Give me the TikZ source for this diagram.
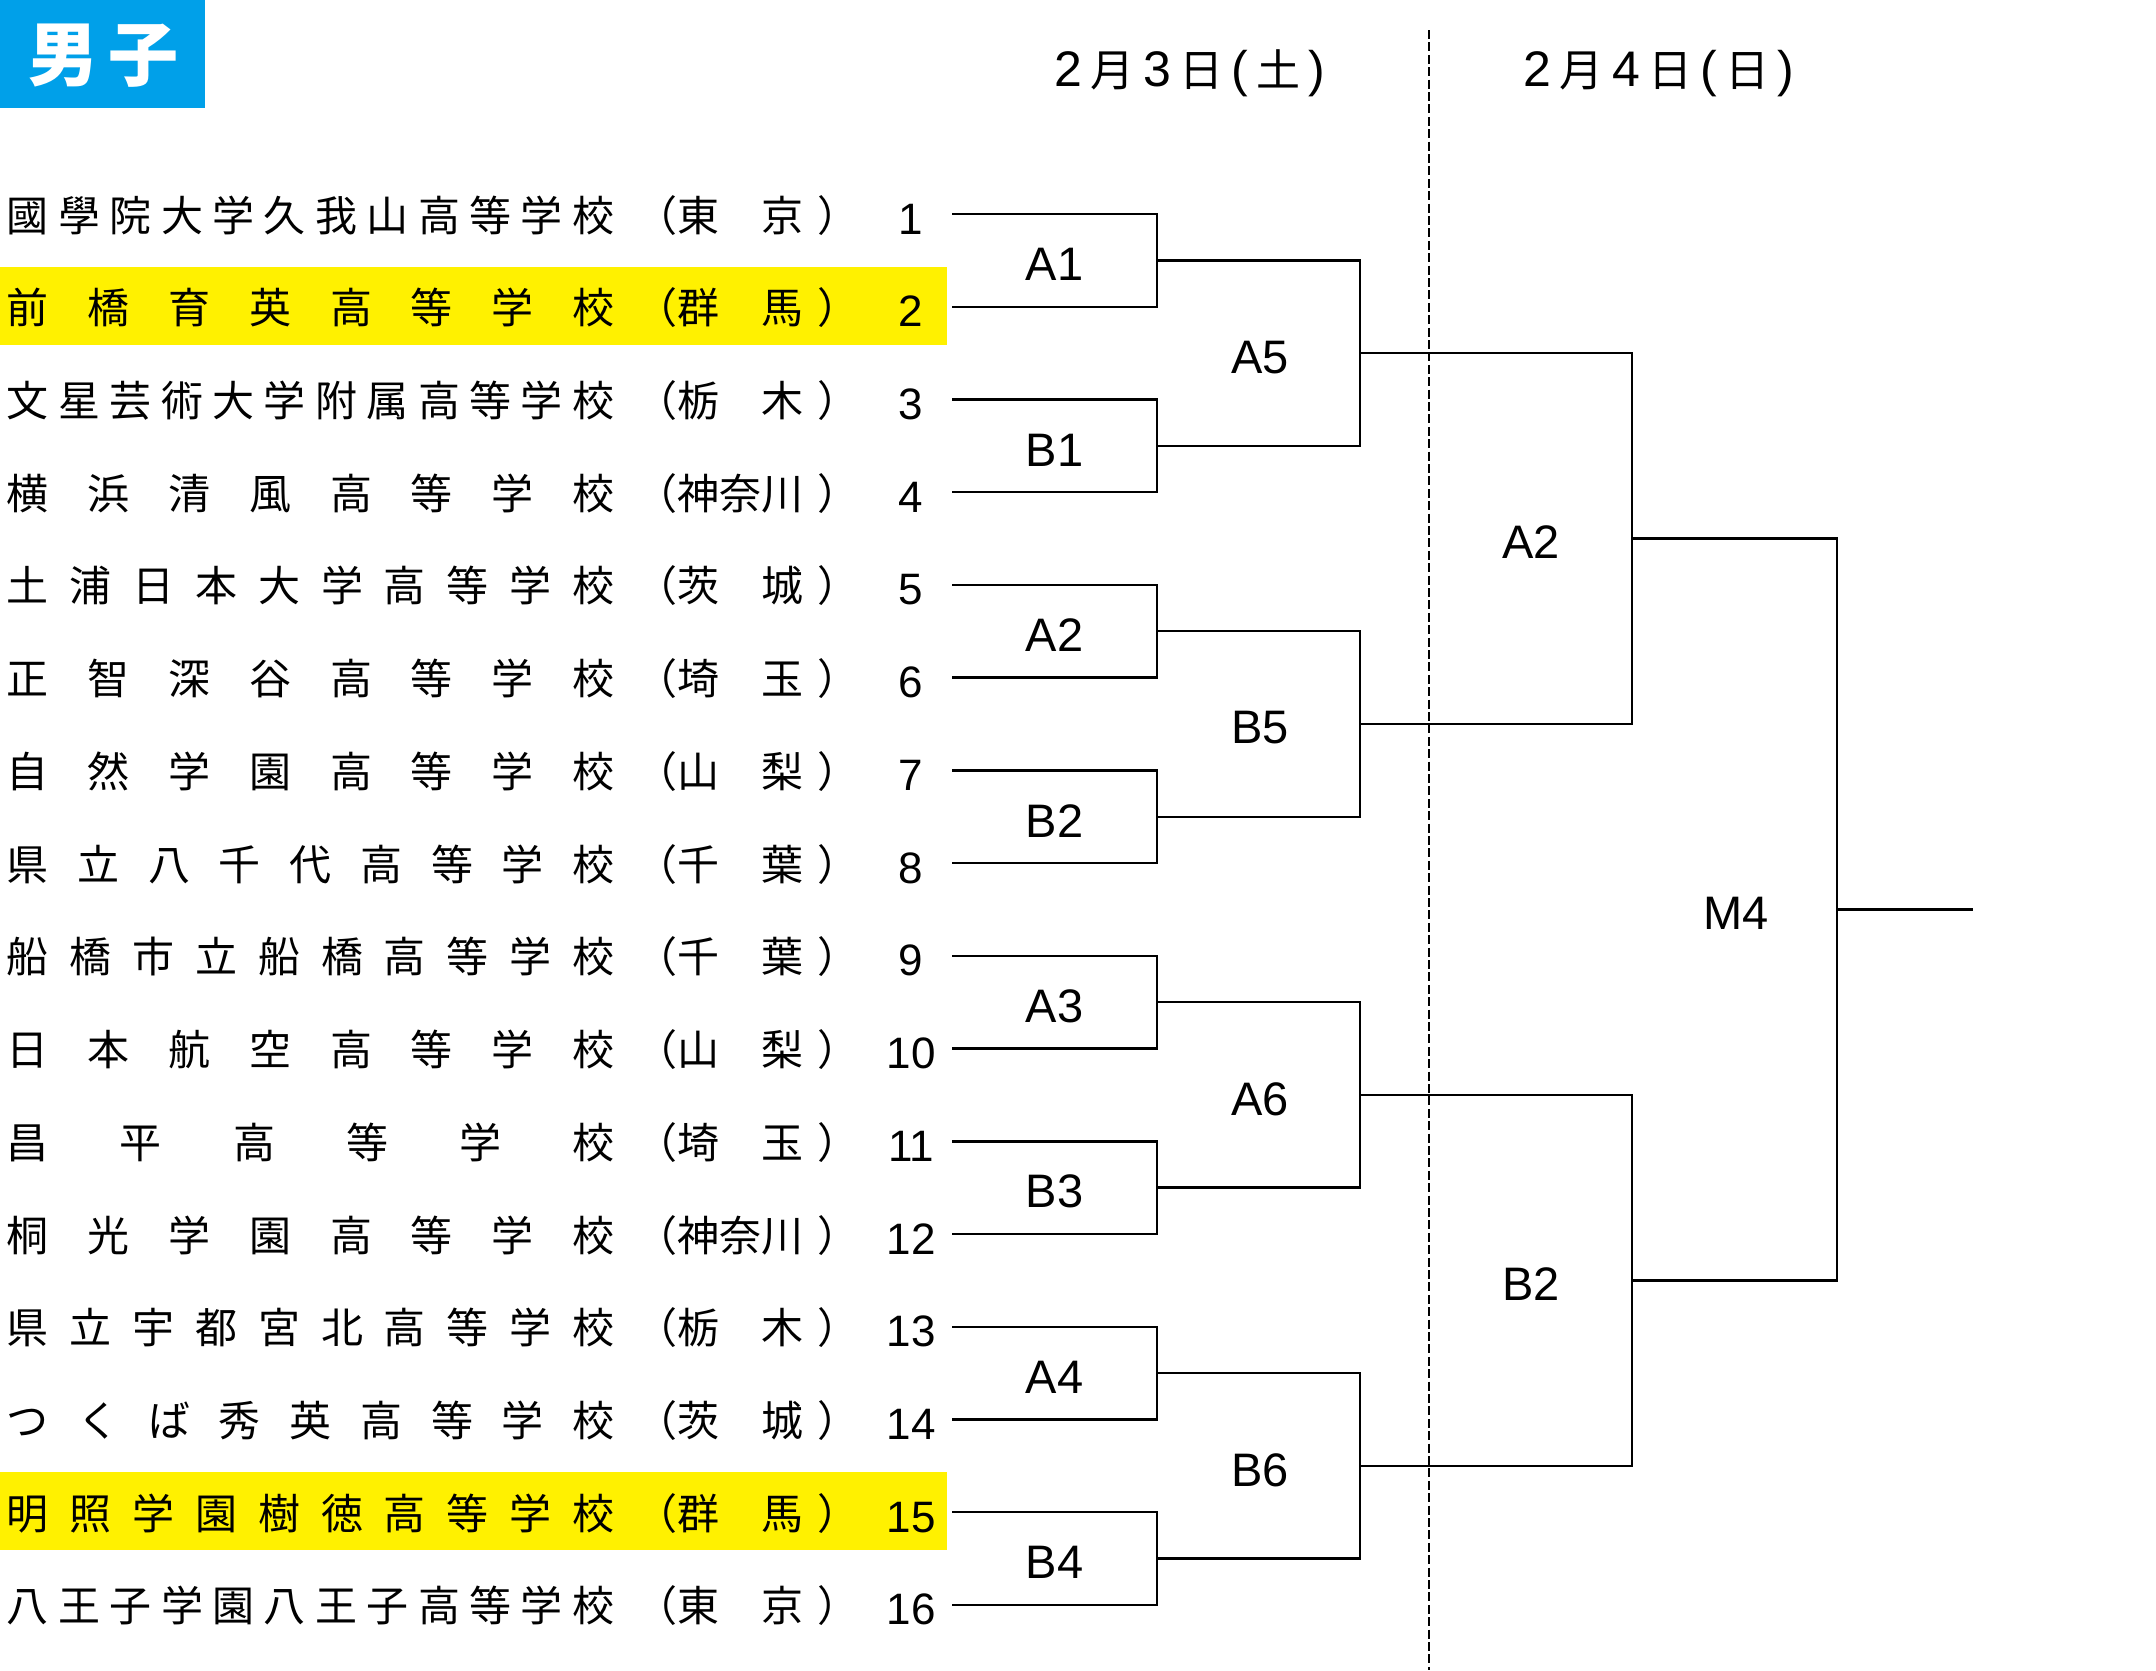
\documentclass[tikz,border=0pt]{standalone}
\usepackage{fontspec}
\setmainfont{Liberation Sans}
\newfontfamily\jpfont{Noto Sans CJK JP}
\usetikzlibrary{calc}
\definecolor{HeadColor}{RGB}{0,160,233}
\definecolor{MarkColor}{RGB}{255,241,0}
\makeatletter
\newcommand\spreadname[1]{\spread@i#1\relax}
\def\spread@i#1#2{#1\ifx\relax#2\expandafter\@gobble\else\hfill\expandafter\@firstofone\fi{\spread@i#2}}
\makeatother
\newcommand\jk[1]{{\jpfont\fontsize{22pt}{22pt}\selectfont #1}}
\tikzstyle{school} = [inner sep=0pt, anchor=base west, font=\jpfont\fontsize{21pt}{21pt}\selectfont]
\tikzstyle{seed} = [inner sep=0pt, anchor=base, font=\fontsize{22pt}{22pt}\selectfont]
\tikzstyle{tag} = [inner sep=0pt, font=\fontsize{23.5pt}{23.5pt}\selectfont]
\tikzstyle{day} = [inner sep=0pt, anchor=base, font=\fontsize{25pt}{25pt}\selectfont]
\tikzstyle{bracket} = [line width=1.2pt, black]
\tikzstyle{dayline} = [line width=1.3pt, dash pattern=on 4.5pt off 1.7pt]

\begin{document}
\begin{tikzpicture}[x=0.5pt, y=-0.5pt]
\useasboundingbox (0,0) rectangle (2156,1670);

% Header
\fill[HeadColor] (0,0) rectangle (205,108);
\node[anchor=base, inner sep=0pt, text=white, font=\jpfont\bfseries\fontsize{35pt}{35pt}\selectfont] (head) at (103.5,80) {男\kern5pt子};

% Days
\node[day] (day1) at (1190,86) {2\,\jk{月}\,3\,\jk{日}\,(\,\jk{土}\,)};
\node[day] (day2) at (1659,86) {2\,\jk{月}\,4\,\jk{日}\,(\,\jk{日}\,)};
\coordinate (dtop) at (1429,30);
\coordinate (dbot) at (1429,1670);
\draw[dayline] (dtop) -- (dbot);

% Highlighted schools
\foreach \i in {2,15} {
  \pgfmathsetmacro\ry{214+(\i-1)*92.73}
  \fill[MarkColor] (0,\ry-40) rectangle (947,\ry+38);
}

% Schools
\foreach \i/\nm/\pf in {1/國學院大学久我山高等学校/東　京, 2/前橋育英高等学校/群　馬,
    3/文星芸術大学附属高等学校/栃　木, 4/横浜清風高等学校/神奈川,
    5/土浦日本大学高等学校/茨　城, 6/正智深谷高等学校/埼　玉,
    7/自然学園高等学校/山　梨, 8/県立八千代高等学校/千　葉,
    9/船橋市立船橋高等学校/千　葉, 10/日本航空高等学校/山　梨,
    11/昌平高等学校/埼　玉, 12/桐光学園高等学校/神奈川,
    13/県立宇都宮北高等学校/栃　木, 14/つくば秀英高等学校/茨　城,
    15/明照学園樹徳高等学校/群　馬, 16/八王子学園八王子高等学校/東　京} {
  \pgfmathsetmacro\ry{214+(\i-1)*92.73}
  \node[school] (s\i) at (6.5,\ry+17) {\makebox[303.75pt]{\expandafter\spreadname\expandafter{\nm}}};
  \node[school] (f\i) at (635,\ry+17) {（\pf\kern7pt）};
  \node[seed] (n\i) at (911,\ry+20) {\i};
  \coordinate (p\i) at (952,\ry);
}

% Round 1
\foreach \k/\lb in {1/A1, 2/B1, 3/A2, 4/B2, 5/A3, 6/B3, 7/A4, 8/B4} {
  \pgfmathtruncatemacro\a{2*\k-1}
  \pgfmathtruncatemacro\b{2*\k}
  \coordinate (m\k) at (1157,{214+(2*\k-1.5)*92.73});
  \draw[bracket] (p\a) -| (m\k) |- (p\b);
  \node[tag] (t1\k) at ($(m\k)+(-102.5,4)$) {\lb};
}

% Round 2
\foreach \k/\lb in {1/A5, 2/B5, 3/A6, 4/B6} {
  \pgfmathtruncatemacro\a{2*\k-1}
  \pgfmathtruncatemacro\b{2*\k}
  \coordinate (q\k) at (1360,{214+(4*\k-2.5)*92.73});
  \draw[bracket] (m\a) -| (q\k) |- (m\b);
  \node[tag] (t2\k) at ($(q\k)+(-100,4)$) {\lb};
}

% Semifinal
\foreach \k/\lb in {1/A2, 2/B2} {
  \pgfmathtruncatemacro\a{2*\k-1}
  \pgfmathtruncatemacro\b{2*\k}
  \coordinate (r\k) at (1632,{214+(8*\k-4.5)*92.73});
  \draw[bracket] (q\a) -| (r\k) |- (q\b);
  \node[tag] (t3\k) at ($(r\k)+(-101,4)$) {\lb};
}

% Final
\coordinate (fin) at (1837,{214+7.5*92.73});
\coordinate (win) at (1973,{214+7.5*92.73});
\draw[bracket] (r1) -| (fin) |- (r2);
\draw[bracket] (fin) -- (win);
\node[tag] (t4) at ($(fin)+(-101,4)$) {M4};
\end{tikzpicture}
\end{document}
